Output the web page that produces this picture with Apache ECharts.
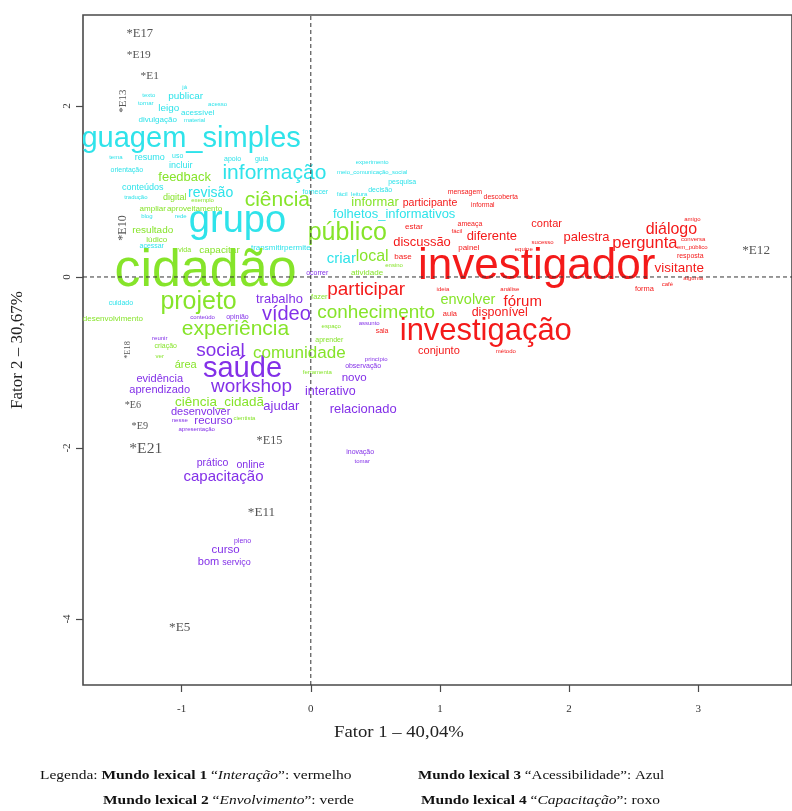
<!DOCTYPE html>
<html><head><meta charset="utf-8">
<script src="https://cdn.jsdelivr.net/npm/echarts@6/dist/echarts.min.js"></script>
<style>html,body{margin:0;padding:0;background:#fff}#c{width:792px;height:811px}</style>
</head><body><div id="c"></div>
<script>
// Ticks
const xTicks = [-1, 0, 1, 2, 3];
const yTicks = [-4, -2, 0, 2];
const xTitle = 'Fator 1 – 40,04%';
const yTitle = 'Fator 2 – 30,67%';

// [palavra, fator1, fator2, peso(cex)]
const mundo1 = [ // Interação - vermelho
  ['investigador',1.749,0.117,3.67],['investigação',1.355,-0.632,2.58],['participar',0.429,-0.152,1.58],
  ['pergunta',2.587,0.398,1.38],['diálogo',2.792,0.550,1.33],['palestra',2.135,0.468,1.08],
  ['visitante',2.853,0.105,1.12],['diferente',1.402,0.480,1.08],['discussão',0.861,0.409,1.08],
  ['participante',0.923,0.865,0.88],['contar',1.826,0.620,0.92],['fórum',1.641,-0.292,1.25],
  ['disponível',1.463,-0.421,1.04],['conjunto',0.992,-0.865,0.92],['estar',0.799,0.585,0.67],
  ['aula',1.077,-0.433,0.62],['sala',0.552,-0.632,0.58],['base',0.714,0.234,0.67],
  ['painel',1.224,0.339,0.67],['fácil',1.131,0.538,0.5],['ameaça',1.232,0.620,0.58],
  ['mensagem',1.193,0.994,0.58],['descoberta',1.471,0.936,0.58],['informal',1.332,0.842,0.55],
  ['sucesso',1.795,0.409,0.5],['forma',2.583,-0.140,0.62],['café',2.761,-0.082,0.5],
  ['amigo',2.954,0.678,0.5],['conversa',2.961,0.444,0.5],['em_público',2.954,0.351,0.5],
  ['resposta',2.938,0.246,0.58],['alguma',2.961,-0.012,0.5],['ideia',1.023,-0.140,0.5],
  ['análise',1.541,-0.140,0.5],['método',1.510,-0.865,0.5],['equipe',1.649,0.327,0.5]
];
const mundo2 = [ // Envolvimento - verde
  ['cidadão',-0.815,0.058,4.33],['ciência',-0.259,0.901,1.75],['público',0.282,0.515,2.08],
  ['projeto',-0.869,-0.292,2.08],['experiência',-0.583,-0.608,1.75],['comunidade',-0.089,-0.889,1.42],
  ['conhecimento',0.506,-0.421,1.58],['envolver',1.216,-0.269,1.21],['local',0.475,0.234,1.33],
  ['feedback',-0.977,1.170,1.08],['informar',0.498,0.877,1.08],['ciência_cidadã',-0.707,-1.462,1.12],
  ['área',-0.969,-1.029,0.92],['desenvolvimento',-1.533,-0.491,0.67],['capacitar',-0.707,0.316,0.83],
  ['vida',-0.977,0.316,0.58],['resultado',-1.224,0.550,0.83],['lúdico',-1.193,0.433,0.67],
  ['ampliar',-1.224,0.795,0.67],['aproveitamento',-0.900,0.795,0.67],['digital',-1.054,0.924,0.75],
  ['exemplo',-0.838,0.901,0.5],['atividade',0.436,0.047,0.67],['ensino',0.645,0.140,0.5],
  ['fazer',0.066,-0.234,0.62],['aprender',0.143,-0.737,0.58],['espaço',0.158,-0.573,0.5],
  ['ferramenta',0.050,-1.111,0.5],['criação',-1.124,-0.807,0.58],['ver',-1.170,-0.924,0.5],
  ['cientista',-0.514,-1.649,0.5]
];
const mundo3 = [ // Acessibilidade - azul
  ['linguagem_simples',-1.039,1.614,2.42],['grupo',-0.568,0.643,3.17],['informação',-0.282,1.216,1.75],
  ['revisão',-0.776,0.982,1.17],['criar',0.236,0.211,1.25],['folhetos_informativos',0.645,0.737,1.08],
  ['publicar',-0.969,2.117,0.83],['leigo',-1.100,1.977,0.83],['acessível',-0.876,1.918,0.67],
  ['divulgação',-1.185,1.836,0.67],['material',-0.900,1.836,0.5],['texto',-1.255,2.129,0.5],
  ['acesso',-0.722,2.023,0.5],['já',-0.977,2.222,0.5],['tornar',-1.278,2.035,0.5],
  ['resumo',-1.247,1.392,0.75],['uso',-1.031,1.415,0.58],['tema',-1.510,1.404,0.5],
  ['orientação',-1.425,1.251,0.58],['incluir',-1.008,1.298,0.75],['apoio',-0.606,1.380,0.58],
  ['guia',-0.382,1.380,0.58],['experimento',0.475,1.345,0.5],['meio_comunicação_social',0.475,1.228,0.5],
  ['pesquisa',0.707,1.111,0.58],['fornecer',0.035,0.994,0.58],['fácil',0.243,0.971,0.5],
  ['leitura',0.375,0.971,0.5],['decisão',0.537,1.018,0.58],['conteúdos',-1.301,1.041,0.75],
  ['tradução',-1.355,0.936,0.5],['blog',-1.270,0.713,0.5],['rede',-1.008,0.713,0.5],
  ['acessar',-1.232,0.363,0.58],['transmitir',-0.336,0.339,0.67],['permite',-0.104,0.339,0.67],
  ['cuidado',-1.471,-0.304,0.58]
];
const mundo4 = [ // Capacitação - roxo
  ['saúde',-0.529,-1.076,2.42],['social',-0.699,-0.865,1.58],['workshop',-0.459,-1.287,1.58],
  ['vídeo',-0.189,-0.444,1.67],['trabalho',-0.243,-0.257,1.08],['ajudar',-0.228,-1.509,1.08],
  ['evidência',-1.170,-1.193,0.92],['aprendizado',-1.170,-1.322,0.92],['desenvolver',-0.853,-1.579,0.92],
  ['recurso',-0.753,-1.684,0.96],['prático',-0.761,-2.175,0.88],['online',-0.467,-2.199,0.88],
  ['capacitação',-0.676,-2.339,1.25],['curso',-0.660,-3.193,0.96],['bom',-0.792,-3.333,0.92],
  ['serviço',-0.575,-3.345,0.75],['pleno',-0.529,-3.088,0.58],['novo',0.336,-1.181,0.96],
  ['interativo',0.151,-1.345,1.04],['relacionado',0.405,-1.544,1.08],['inovação',0.382,-2.047,0.58],
  ['tomar',0.398,-2.152,0.5],['observação',0.405,-1.041,0.58],['princípio',0.506,-0.959,0.5],
  ['assunto',0.452,-0.538,0.5],['ocorrer',0.050,0.047,0.58],['conteúdo',-0.838,-0.468,0.5],
  ['opinião',-0.568,-0.468,0.58],['reunir',-1.170,-0.713,0.5],['nesse',-1.015,-1.673,0.5],
  ['apresentação',-0.884,-1.778,0.5]
];
// Variáveis suplementares (entrevistados)
const suplementares = [
  ['*E17',-1.324,2.842,1.05],['*E19',-1.332,2.596,0.95],['*E1',-1.247,2.351,0.95],
  ['*E13',-1.456,2.058,0.92],['*E10',-1.456,0.573,1.0],['*E18',-1.417,-0.854,0.7],
  ['*E12',3.448,0.304,1.1],['*E6',-1.378,-1.497,0.85],['*E9',-1.324,-1.743,0.85],
  ['*E21',-1.278,-2.012,1.3],['*E15',-0.320,-1.918,1.02],['*E11',-0.382,-2.760,1.1],
  ['*E5',-1.015,-4.105,1.1]
];
const verticais = ['*E13', '*E10', '*E18'];

const cores = ['#f41a1a', '#86e42a', '#2fe3ea', '#8330e8'];
const sansF = 'Liberation Sans, Arial, sans-serif';
const serifF = 'Liberation Serif, Times New Roman, serif';

function wordSeries(rows, color, family, z, rotated) {
  return {
    type: 'custom', coordinateSystem: 'cartesian2d', clip: true, silent: true, z: z,
    data: rows.map(r => [r[1], r[2], r[3]]),
    encode: { x: 0, y: 1 },
    renderItem: function (params, api) {
      const p = api.coord([api.value(0), api.value(1)]);
      const lab = rows[params.dataIndex][0];
      return {
        type: 'text', x: p[0], y: p[1],
        rotation: (rotated && rotated.indexOf(lab) >= 0) ? Math.PI / 2 : 0,
        style: { text: lab, fill: color, fontSize: api.value(2) * 12, fontFamily: family,
                 align: 'center', verticalAlign: 'middle' }
      };
    }
  };
}

const chart = echarts.init(document.getElementById('c'), null, { renderer: 'canvas' });
const axisCol = '#4a4a4a';
chart.setOption({
  animation: false,
  backgroundColor: '#fff',
  grid: { left: 83, top: 15, right: -2, bottom: 126, show: true, borderColor: axisCol, borderWidth: 1.6, backgroundColor: 'transparent' },
  xAxis: {
    type: 'value', min: -1.764, max: 3.726,
    axisLine: { show: false, onZero: false }, splitLine: { show: false },
    axisTick: { show: true, length: 7, customValues: xTicks, lineStyle: { color: axisCol, width: 1.2 } },
    axisLabel: { customValues: xTicks, margin: 19, fontSize: 11, fontFamily: serifF, color: '#333' }
  },
  yAxis: {
    type: 'value', min: -4.772, max: 3.064,
    axisLine: { show: false, onZero: false }, splitLine: { show: false },
    axisTick: { show: true, length: 7, customValues: yTicks, lineStyle: { color: axisCol, width: 1.2 } },
    axisLabel: { customValues: yTicks, rotate: 90, margin: 10, fontSize: 11, fontFamily: serifF, color: '#333' }
  },
  series: [
    wordSeries(mundo4, cores[3], sansF, 2),
    wordSeries(mundo3, cores[2], sansF, 2),
    wordSeries(mundo2, cores[1], sansF, 2),
    wordSeries(mundo1, cores[0], sansF, 2),
    wordSeries(suplementares, '#555', serifF, 3, verticais),
    {
      type: 'custom', coordinateSystem: 'cartesian2d', silent: true, z: 4, clip: true,
      data: [[0, 0]], encode: { x: 0, y: 1 },
      renderItem: function (params, api) {
        const a = api.coord([0, -4.772]), b = api.coord([0, 3.064]);
        const c = api.coord([-1.764, 0]), d = api.coord([3.726, 0]);
        const ls = { stroke: '#333', lineWidth: 1, lineDash: [4, 3] };
        return { type: 'group', children: [
          { type: 'line', shape: { x1: a[0], y1: a[1], x2: b[0], y2: b[1] }, style: ls },
          { type: 'line', shape: { x1: c[0], y1: c[1], x2: d[0], y2: d[1] }, style: ls }
        ] };
      }
    }
  ],
  graphic: [
    { type: 'text', x: 399, y: 733, scaleX: 1.1, style: { text: xTitle, fontSize: 17, fontFamily: serifF, fill: '#222', align: 'center', verticalAlign: 'middle' } },
    { type: 'text', x: 18, y: 350, rotation: Math.PI / 2, style: { text: yTitle, fontSize: 17, fontFamily: serifF, fill: '#222', align: 'center', verticalAlign: 'middle' } },
    { type: 'text', x: 40, y: 776, scaleX: 1.19, style: { text: '{n|Legenda: }{b|Mundo lexical 1 }{n|“}{i|Interação}{n|”: vermelho}', verticalAlign: 'middle', rich: richL() } },
    { type: 'text', x: 418, y: 776, scaleX: 1.16, style: { text: '{b|Mundo lexical 3 }{n|“Acessibilidade”: Azul}', verticalAlign: 'middle', rich: richL() } },
    { type: 'text', x: 103, y: 801, scaleX: 1.19, style: { text: '{b|Mundo lexical 2 }{n|“}{i|Envolvimento}{n|”: verde}', verticalAlign: 'middle', rich: richL() } },
    { type: 'text', x: 421, y: 801, scaleX: 1.19, style: { text: '{b|Mundo lexical 4 }{n|“}{i|Capacitação}{n|”: roxo}', verticalAlign: 'middle', rich: richL() } }
  ]
});
function richL() {
  const base = { fontSize: 13, fontFamily: serifF, fill: '#111', color: '#111' };
  return {
    n: Object.assign({}, base),
    b: Object.assign({}, base, { fontWeight: 'bold' }),
    i: Object.assign({}, base, { fontStyle: 'italic' })
  };
}
</script></body></html>
